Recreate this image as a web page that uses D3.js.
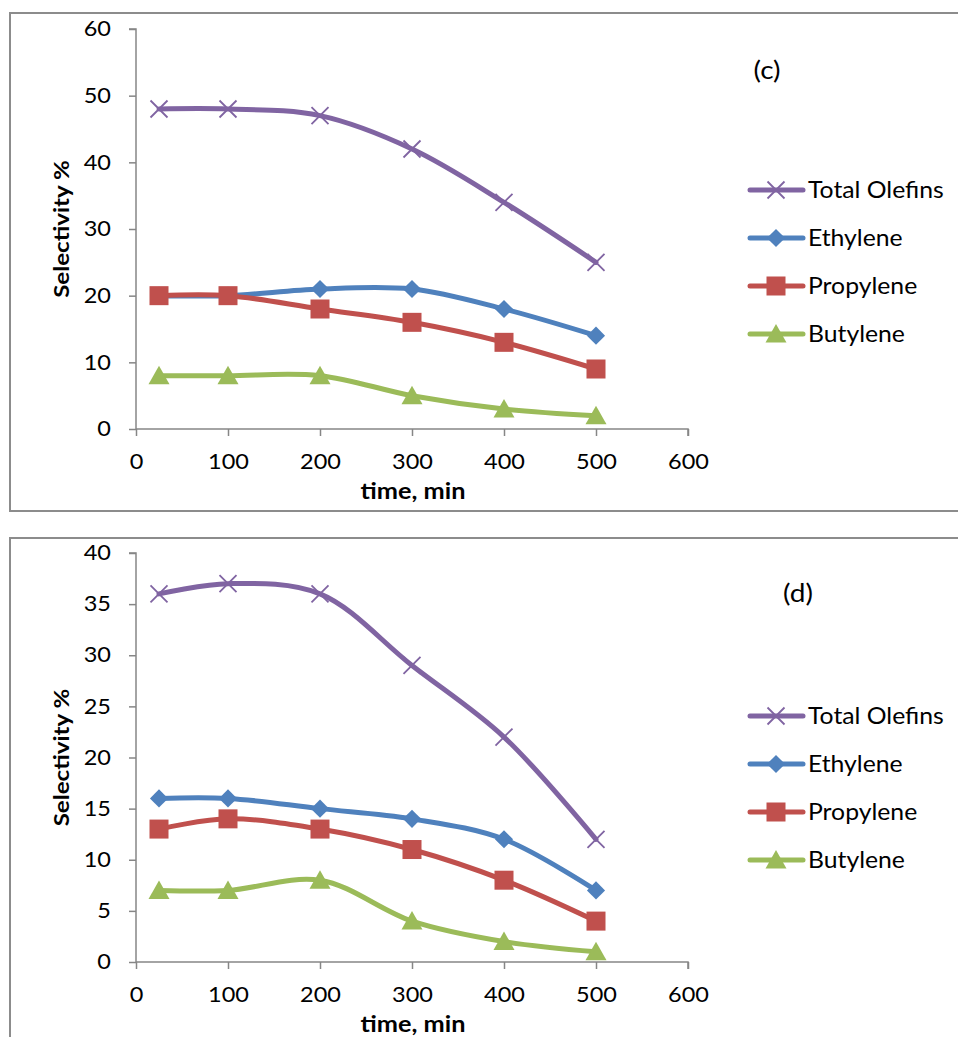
<!DOCTYPE html>
<html>
<head>
<meta charset="utf-8">
<script src="https://cdn.jsdelivr.net/npm/d3@7"></script>
<style>
  body { margin: 0; background: #fff; }
  text { font-family: Lato, "Open Sans", sans-serif; fill: #000; }
</style>
</head>
<body>
<div id="chart"></div>
<script>
var times = [25, 100, 200, 300, 400, 500];
var seriesNames = ["Total Olefins", "Ethylene", "Propylene", "Butylene"];
var seriesColors = ["#8064A2", "#4F81BD", "#C0504D", "#9BBB59"];
var seriesMarkers = ["x", "diamond", "square", "triangle"];

// panel (c)
var olefinsC = [48, 48, 47, 42, 34, 25];
var ethyleneC = [20, 20, 21, 21, 18, 14];
var propyleneC = [20, 20, 18, 16, 13, 9];
var butyleneC = [8, 8, 8, 5, 3, 2];
var yTicksC = [0, 10, 20, 30, 40, 50, 60];

// panel (d)
var olefinsD = [36, 37, 36, 29, 22, 12];
var ethyleneD = [16, 16, 15, 14, 12, 7];
var propyleneD = [13, 14, 13, 11, 8, 4];
var butyleneD = [7, 7, 8, 4, 2, 1];
var yTicksD = [0, 5, 10, 15, 20, 25, 30, 35, 40];

var xTicks = [0, 100, 200, 300, 400, 500, 600];

var SX = 1.12; // the original figure is a bit stretched sideways

var svg = d3.select("#chart").append("svg")
    .attr("width", 958)
    .attr("height", 1037);

var x = d3.scaleLinear().domain([0, 600]).range([136, 688]);

// text placed at (tx,ty), widened by sx
function addText(g, tx, ty, sx, txt) {
    return g.append("text")
        .attr("transform", "translate(" + tx + "," + ty + ") scale(" + sx + ",1)")
        .text(txt);
}

function drawPanel(opts) {
    var g = svg.append("g");

    // frame
    g.append("rect")
        .attr("x", 10).attr("y", opts.top)
        .attr("width", 960).attr("height", opts.frameH)
        .attr("fill", "none")
        .attr("stroke", "#8c8c8c")
        .attr("stroke-width", 2);

    var y = d3.scaleLinear().domain([0, opts.yMax]).range([opts.y0, opts.yTop]);

    // axes
    var yAxis = g.append("g")
        .attr("transform", "translate(136,0)")
        .call(d3.axisLeft(y).tickValues(opts.yTicks).tickSize(7).tickPadding(18).tickFormat(d3.format("d")));
    var xAxis = g.append("g")
        .attr("transform", "translate(0," + opts.y0 + ")")
        .call(d3.axisBottom(x).tickValues(xTicks).tickSize(7).tickPadding(18).tickFormat(d3.format("d")));
    [yAxis, xAxis].forEach(function(a) {
        a.attr("font-family", null).attr("font-size", null);
        a.select(".domain").attr("stroke", "#868686").attr("stroke-width", 1.5);
        a.selectAll(".tick line").attr("stroke", "#868686").attr("stroke-width", 1.5);
        a.selectAll(".tick text").style("font-size", "21px").attr("fill", "#000")
            .attr("transform", "scale(" + SX + ",1)");
    });
    yAxis.selectAll(".tick text").attr("x", -25 / SX);
    yAxis.select(".domain").attr("d", "M-7," + opts.yTop + "H0V" + opts.y0);
    xAxis.select(".domain").attr("d", "M136,0H688V7");

    // axis titles
    g.append("text")
        .attr("transform", "translate(69," + ((opts.y0 + opts.yTop) / 2) + ") rotate(-90) scale(1.15,1)")
        .attr("text-anchor", "middle")
        .style("font-size", "21px").style("font-weight", "bold")
        .text("Selectivity %");
    addText(g, 413, opts.y0 + 70, 1.15, "time, min")
        .attr("text-anchor", "middle")
        .style("font-size", "22px").style("font-weight", "bold");

    // panel label
    addText(g, opts.labelX, opts.labelY, SX, opts.label)
        .attr("text-anchor", "middle")
        .style("font-size", "25px");

    var line = d3.line()
        .x(function(d, i) { return x(times[i]); })
        .y(function(d) { return y(d); })
        .curve(d3.curveCatmullRom.alpha(0.5));

    opts.series.forEach(function(vals, s) {
        g.append("path")
            .datum(vals)
            .attr("d", line)
            .attr("fill", "none")
            .attr("stroke", seriesColors[s])
            .attr("stroke-width", 5)
            .attr("stroke-linecap", "round");
        vals.forEach(function(v, i) {
            drawMarker(g, seriesMarkers[s], x(times[i]), y(v), seriesColors[s]);
        });
    });

    // legend
    seriesNames.forEach(function(name, s) {
        var ly = opts.legendY + s * 48;
        g.append("line")
            .attr("x1", 750).attr("x2", 803)
            .attr("y1", ly).attr("y2", ly)
            .attr("stroke", seriesColors[s])
            .attr("stroke-width", 5)
            .attr("stroke-linecap", "round");
        drawMarker(g, seriesMarkers[s], 776, ly, seriesColors[s]);
        addText(g, 808, ly, 1.1, name)
            .attr("dy", "0.36em")
            .style("font-size", "22.5px");
    });
}

function drawMarker(g, type, cx, cy, color) {
    if (type === "x") {
        var r = 8.5;
        g.append("path")
            .attr("d", "M" + (cx - r) + "," + (cy - r) + "L" + (cx + r) + "," + (cy + r) +
                       "M" + (cx - r) + "," + (cy + r) + "L" + (cx + r) + "," + (cy - r))
            .attr("stroke", color).attr("stroke-width", 1.8);
    } else if (type === "diamond") {
        g.append("path")
            .attr("d", d3.symbol(d3.symbolDiamond2, 210)())
            .attr("transform", "translate(" + cx + "," + cy + ")")
            .attr("fill", color);
    } else if (type === "square") {
        g.append("rect")
            .attr("x", cx - 9.5).attr("y", cy - 9.5)
            .attr("width", 19).attr("height", 19)
            .attr("fill", color);
    } else {
        g.append("path")
            .attr("d", "M" + cx + "," + (cy - 10) + "L" + (cx + 10.5) + "," + (cy + 8.5) + "L" + (cx - 10.5) + "," + (cy + 8.5) + "Z")
            .attr("fill", color);
    }
}

drawPanel({
    top: 13, frameH: 498,
    y0: 429, yTop: 29, yMax: 60, yTicks: yTicksC,
    series: [olefinsC, ethyleneC, propyleneC, butyleneC],
    label: "(c)", labelX: 767, labelY: 79,
    legendY: 190
});

drawPanel({
    top: 538, frameH: 520,
    y0: 962, yTop: 553, yMax: 40, yTicks: yTicksD,
    series: [olefinsD, ethyleneD, propyleneD, butyleneD],
    label: "(d)", labelX: 798, labelY: 602,
    legendY: 716
});
</script>
</body>
</html>
